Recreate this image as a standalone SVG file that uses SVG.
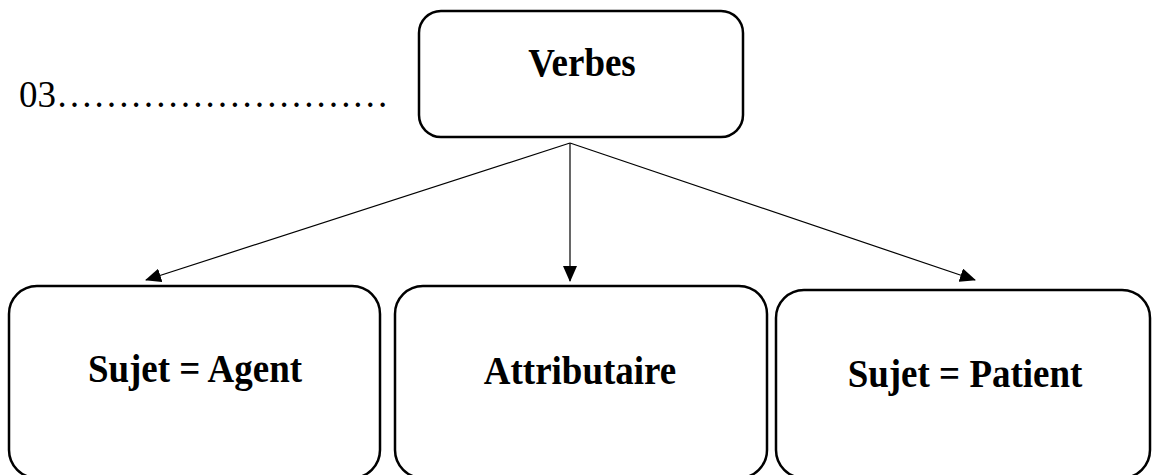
<svg xmlns="http://www.w3.org/2000/svg" width="1153" height="475" viewBox="0 0 1153 475">
<style>
.box{fill:#fff;stroke:#000;stroke-width:2.5}
.lbl{font-family:"Liberation Serif","Times New Roman",serif;font-weight:bold;font-size:37px;text-anchor:middle;fill:#000}
.conn{stroke:#000;stroke-width:1.2;fill:none}
</style>
<defs>
<marker id="ah" markerWidth="16" markerHeight="14" refX="15" refY="7" orient="auto" markerUnits="userSpaceOnUse">
<path d="M0,0 L16,7 L0,14 Z" fill="#000"/>
</marker>
</defs>
<rect width="1153" height="475" fill="#fff"/>
<text transform="translate(19,107) scale(1,1.05)" font-family="Liberation Serif, Times New Roman, serif" font-size="37" fill="#000">03………………………</text>
<g id="verbes">
<rect class="box" x="419" y="11" width="324" height="126" rx="22"/>
<text class="lbl" transform="translate(582,76) scale(1,1.1)">Verbes</text>
</g>
<g id="agent">
<rect class="box" x="9" y="286" width="371" height="192" rx="28"/>
<text class="lbl" transform="translate(195,382) scale(1,1.1)">Sujet = Agent</text>
</g>
<g id="attributaire">
<rect class="box" x="395" y="286" width="372" height="192" rx="28"/>
<text class="lbl" transform="translate(580,384) scale(1,1.1)">Attributaire</text>
</g>
<g id="patient">
<rect class="box" x="776" y="290" width="374" height="188" rx="28"/>
<text class="lbl" transform="translate(965,387) scale(1,1.1)">Sujet = Patient</text>
</g>
<g id="connectors">
<line class="conn" x1="570" y1="143" x2="146" y2="280" marker-end="url(#ah)"/>
<line class="conn" x1="570" y1="143" x2="570" y2="281" marker-end="url(#ah)"/>
<line class="conn" x1="570" y1="143" x2="975" y2="280" marker-end="url(#ah)"/>
</g>
</svg>
